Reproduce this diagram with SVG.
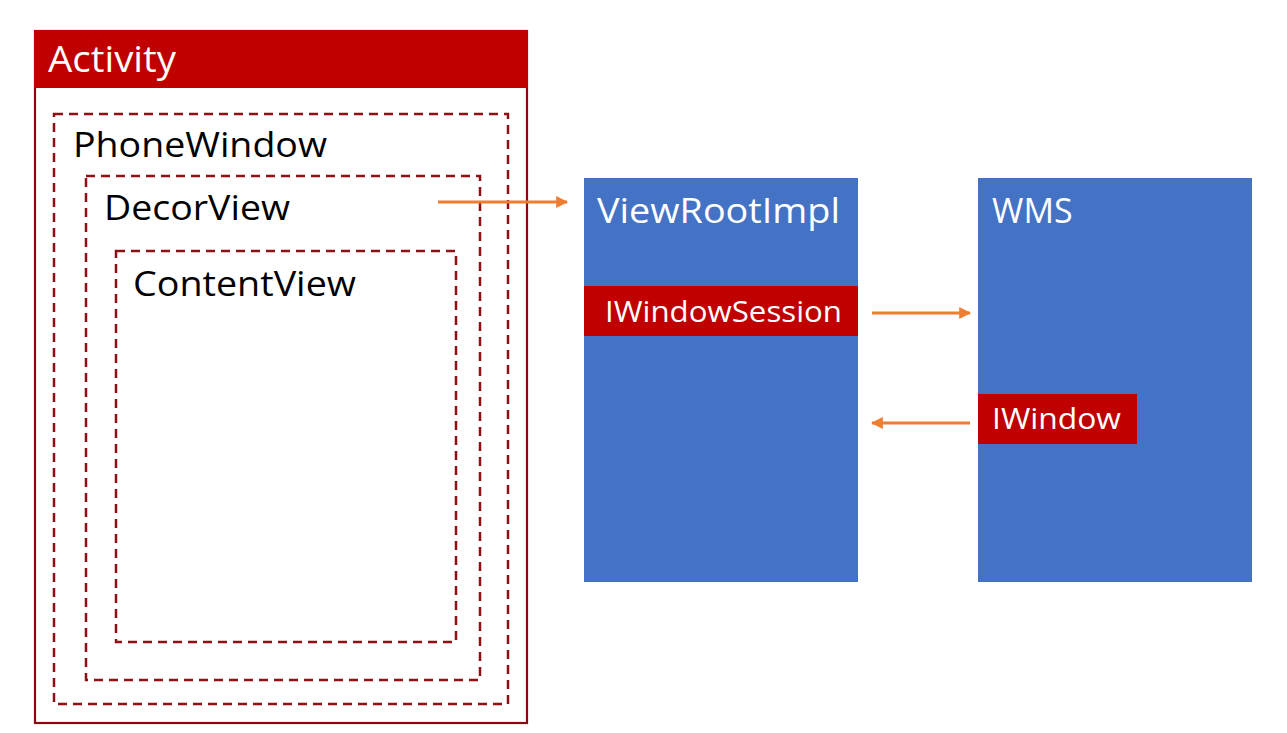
<svg xmlns="http://www.w3.org/2000/svg" width="1287" height="733" viewBox="0 0 1287 733">
<defs>
<style>
.t{font-family:"Open Sans","Noto Sans","DejaVu Sans",sans-serif}
.w{fill:#ffffff}
.k{fill:#000000}
.dash{fill:none;stroke:#8e0f14;stroke-width:2.5;stroke-dasharray:9 6}
.blue{fill:#4472c4}
.red{fill:#c00000}
.arr{stroke:#ed7d31;stroke-width:3;fill:none}
</style>
<marker id="ah" viewBox="0 0 10 10" refX="9" refY="5" markerWidth="4" markerHeight="4" orient="auto" markerUnits="strokeWidth">
<path d="M0,0 L10,5 L0,10 z" fill="#ed7d31"/>
</marker>
</defs>
<rect width="1287" height="733" fill="#ffffff"/>
<g id="activity">
<rect x="35" y="31" width="492" height="692" fill="none" stroke="#8b0a10" stroke-width="2.2"/>
<rect x="34" y="30" width="494" height="58" class="red"/>
<text x="48" y="72" class="t w" font-size="36" textLength="128" lengthAdjust="spacingAndGlyphs">Activity</text>
</g>
<g id="phonewindow">
<rect x="54" y="114" width="454" height="590" class="dash"/>
<text x="73" y="157" class="t k" font-size="34" textLength="254" lengthAdjust="spacingAndGlyphs">PhoneWindow</text>
</g>
<g id="decorview">
<rect x="86" y="176" width="394" height="504" class="dash"/>
<text x="104" y="220" class="t k" font-size="34" textLength="186" lengthAdjust="spacingAndGlyphs">DecorView</text>
</g>
<g id="contentview">
<rect x="116" y="251" width="340" height="391" class="dash"/>
<text x="133" y="296" class="t k" font-size="34" textLength="223" lengthAdjust="spacingAndGlyphs">ContentView</text>
</g>
<g id="viewrootimpl">
<rect x="584" y="178" width="274" height="404" class="blue"/>
<text x="597" y="223" class="t w" font-size="34" textLength="243" lengthAdjust="spacingAndGlyphs">ViewRootImpl</text>
</g>
<g id="iwindowsession">
<rect x="584" y="286" width="274" height="50" class="red"/>
<text x="605" y="322" class="t w" font-size="30" textLength="237" lengthAdjust="spacingAndGlyphs">IWindowSession</text>
</g>
<g id="wms">
<rect x="978" y="178" width="274" height="404" class="blue"/>
<text x="992" y="223" class="t w" font-size="34">WMS</text>
</g>
<g id="iwindow">
<rect x="978" y="394" width="159" height="50" class="red"/>
<text x="992" y="429" class="t w" font-size="30" textLength="129" lengthAdjust="spacingAndGlyphs">IWindow</text>
</g>
<g id="connectors">
<line x1="438" y1="202" x2="567" y2="202" class="arr" marker-end="url(#ah)"/>
<line x1="872" y1="313" x2="970" y2="313" class="arr" marker-end="url(#ah)"/>
<line x1="970" y1="423" x2="872" y2="423" class="arr" marker-end="url(#ah)"/>
</g>
</svg>
